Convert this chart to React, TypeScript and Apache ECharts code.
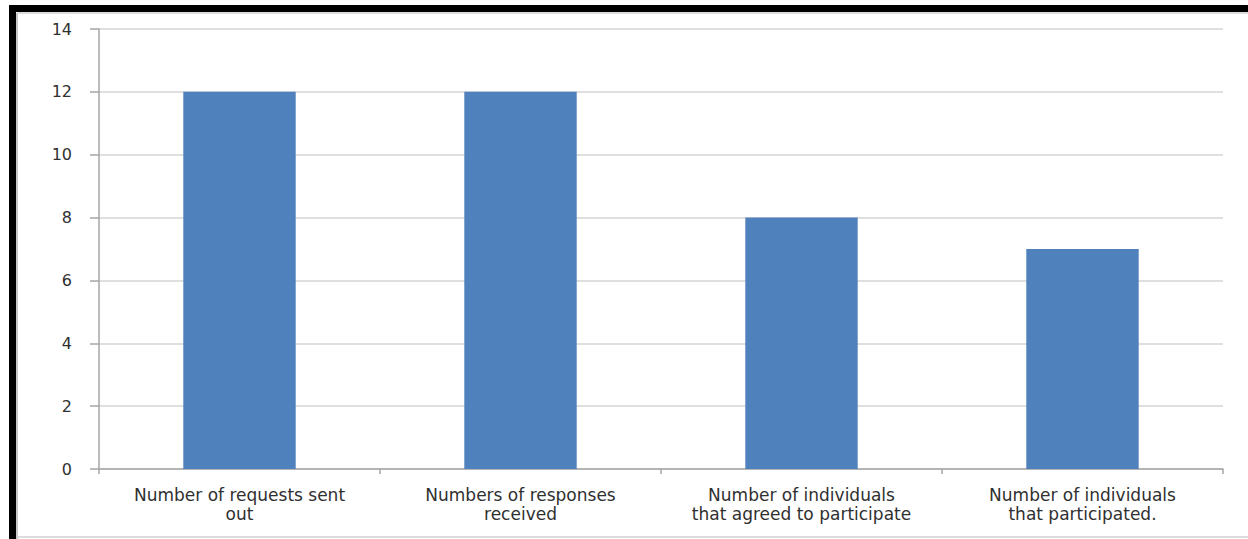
import React, { useEffect, useRef } from "react";
import * as echarts from "echarts";

const categories = [
  "Number of requests sent\nout",
  "Numbers of responses\nreceived",
  "Number of individuals\nthat agreed to participate",
  "Number of individuals\nthat participated.",
];
const values = [12, 12, 8, 7];
const yMin = 0;
const yMax = 14;
const yStep = 2;

export default function App() {
  const ref = useRef<HTMLDivElement>(null);
  useEffect(() => {
    if (!ref.current) return;
    const chart = echarts.init(ref.current, undefined, { renderer: "svg" });
    chart.setOption({
      animation: false,
      backgroundColor: "#ffffff",
      graphic: [
        { type: "rect", shape: { x: 9, y: 5, width: 1239, height: 7 }, style: { fill: "#000" } },
        { type: "rect", shape: { x: 9, y: 5, width: 7, height: 534 }, style: { fill: "#000" } },
        { type: "line", shape: { x1: 17, y1: 13, x2: 17, y2: 539 }, style: { stroke: "#c8c8c8", lineWidth: 2 } },
        { type: "line", shape: { x1: 17, y1: 13, x2: 1248, y2: 13 }, style: { stroke: "#d0d0d0", lineWidth: 1.5 } },
        { type: "line", shape: { x1: 17, y1: 537, x2: 1248, y2: 537 }, style: { stroke: "#d0d0d0", lineWidth: 1.5 } },
      ],
      grid: { left: 99, top: 29, right: 25, bottom: 70, containLabel: false },
      xAxis: {
        type: "category",
        data: categories,
        axisLine: { lineStyle: { color: "#a6a6a6", width: 1.5 } },
        axisTick: { show: true, length: 5, lineStyle: { color: "#a6a6a6", width: 1.5 } },
        axisLabel: {
          interval: 0,
          color: "#303030",
          fontFamily: "DejaVu Sans",
          fontSize: 17,
          lineHeight: 19,
          margin: 16,
        },
      },
      yAxis: {
        type: "value",
        min: yMin,
        max: yMax,
        interval: yStep,
        axisLine: { show: true, lineStyle: { color: "#a6a6a6", width: 1.5 } },
        axisTick: { show: true, length: 9, lineStyle: { color: "#a6a6a6", width: 1.5 } },
        axisLabel: {
          color: "#303030",
          fontFamily: "DejaVu Sans",
          fontSize: 16,
          margin: 27,
        },
        splitLine: { lineStyle: { color: "#d4d4d4", width: 1.5 } },
      },
      series: [
        {
          type: "bar",
          data: values,
          barWidth: "40%",
          itemStyle: { color: "#4f81bd" },
        },
      ],
    });
    return () => chart.dispose();
  }, []);
  return (
    <div
      ref={ref}
      style={{ position: "fixed", left: 0, top: 0, width: 1248, height: 539 }}
    />
  );
}
